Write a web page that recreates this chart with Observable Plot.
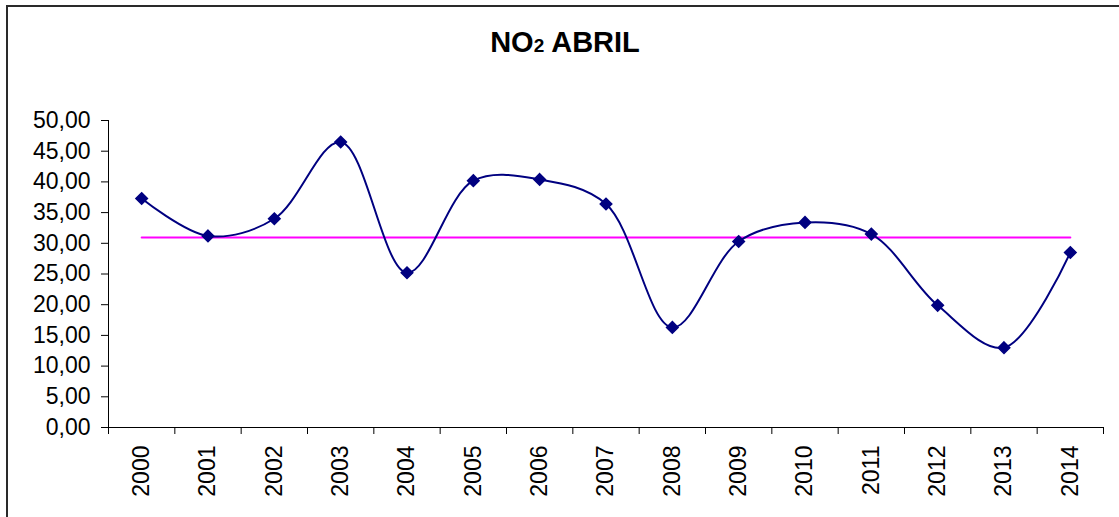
<!DOCTYPE html>
<html>
<head>
<meta charset="utf-8">
<script src="https://cdn.jsdelivr.net/npm/d3@7"></script>
<script src="https://cdn.jsdelivr.net/npm/@observablehq/plot@0.6"></script>
<style>
  html, body { margin: 0; padding: 0; background: #fff; }
  #wrap { position: relative; width: 1119px; height: 517px; overflow: hidden; background: #fff; }
  #frame { position: absolute; left: 6px; top: 5px; width: 2000px; height: 2000px; border-left: 2px solid #2a2a2a; border-top: 2px solid #2a2a2a; }
  #title { position: absolute; left: 565px; top: 28px; transform: translateX(-50%); font-family: "Liberation Sans", Arial, sans-serif; font-weight: bold; font-size: 29px; line-height: 29px; color: #000; white-space: nowrap; }
  #title .sub { font-size: 19px; }
  #chart { position: absolute; left: 0; top: 0; }
</style>
</head>
<body>
<div id="wrap">
  <div id="frame"></div>
  <div id="title">NO<span class="sub">2</span> ABRIL</div>
  <div id="chart"></div>
</div>
<script>
const years = [2000, 2001, 2002, 2003, 2004, 2005, 2006, 2007, 2008, 2009, 2010, 2011, 2012, 2013, 2014];
const no2 = [37.3, 31.2, 34.0, 46.5, 25.2, 40.2, 40.4, 36.4, 16.3, 30.3, 33.4, 31.5, 19.9, 13.0, 28.5];
const meanValue = 30.94;
const yTicks = [0, 5, 10, 15, 20, 25, 30, 35, 40, 45, 50];
const bandEdges = [1999.5, 2000.5, 2001.5, 2002.5, 2003.5, 2004.5, 2005.5, 2006.5, 2007.5, 2008.5, 2009.5, 2010.5, 2011.5, 2012.5, 2013.5, 2014.5];

const rows = years.map((y, i) => ({year: y, value: no2[i]}));

const chart = Plot.plot({
  width: 1119,
  height: 517,
  marginLeft: 108,
  marginRight: 16,
  marginTop: 120,
  marginBottom: 90,
  x: {domain: [1999.5, 2014.5]},
  y: {domain: [0, 50]},
  style: {fontFamily: "'Liberation Sans', Arial, sans-serif", fontSize: "23px", color: "#000", background: "transparent", overflow: "visible"},
  marks: [
    Plot.axisY({ticks: yTicks, tickSize: 7, tickPadding: 11, tickFormat: d => d.toFixed(2).replace(".", ","), label: null, fontSize: 23, stroke: "#000"}),
    Plot.axisX({ticks: bandEdges, tickSize: 7, tickFormat: () => "", label: null, stroke: "#000"}),
    Plot.axisX({ticks: years, tickSize: 0, tickRotate: -90, tickPadding: 18, tickFormat: d => String(d), label: null, fontSize: 23}),
    Plot.ruleX([1999.5], {stroke: "#000", strokeWidth: 1}),
    Plot.ruleY([0], {stroke: "#000", strokeWidth: 1}),
    Plot.lineY(years, {x: d => d, y: () => meanValue, stroke: "#ff00ff", strokeWidth: 2}),
    Plot.line(rows, {x: "year", y: "value", curve: "catmull-rom", stroke: "#000080", strokeWidth: 2}),
    Plot.dot(rows, {x: "year", y: "value", symbol: "diamond2", r: 5.2, fill: "#000080", stroke: "#000080"})
  ]
});
document.getElementById("chart").appendChild(chart);
</script>
</body>
</html>
